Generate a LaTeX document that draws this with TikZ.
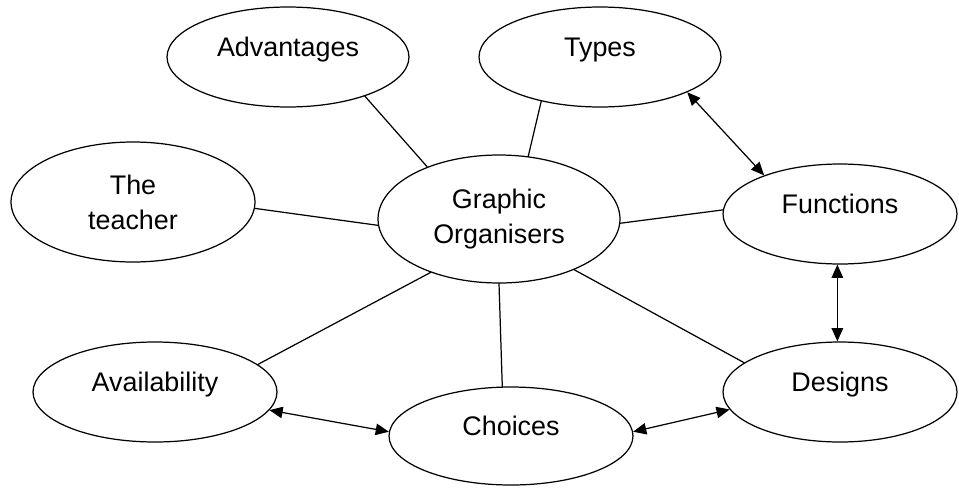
\documentclass[tikz,border=0pt]{standalone}
\usepackage{fontspec}
\setmainfont{Liberation Sans}
\usetikzlibrary{shapes.geometric,arrows.meta}
\begin{document}
\begin{tikzpicture}[x=0.02cm, y=-0.02cm, line width=0.7pt, line join=round, line cap=round,
	>={Triangle[length=7.5pt,width=6.5pt]}, font=\fontsize{15.3}{20}\selectfont,
	bub/.style 2 args={ellipse, draw, inner sep=0pt, minimum width=#1cm, minimum height=#2cm},
	one/.style={text height=11pt, text depth=12pt}]
	\useasboundingbox (0,0) rectangle (959,487);
	\node[bub={4.84}{2.0}, one] (adv) at (288,57) {Advantages};
	\node[bub={4.84}{2.0}, one] (types) at (600,57) {Types};
	\node[bub={4.88}{2.4}, align=center] (teach) at (133,202) {The\\teacher};
	\node[bub={4.84}{2.56}, align=center] (go) at (499,219) {Graphic\\Organisers};
	\node[bub={4.68}{2.0}, one] (func) at (840,214) {Functions};
	\node[bub={4.88}{2.0}, one] (avail) at (155,392) {Availability};
	\node[bub={4.88}{1.96}, one] (choice) at (511,436) {Choices};
	\node[bub={4.68}{2.0}, one] (design) at (840,392) {Designs};
	\draw (adv.-27) -- (go.144);
	\draw (types.217) -- (go.65);
	\draw (teach.-3) -- (go.183);
	\draw (go.-2) -- (func.178);
	\draw (go.218) -- (avail.15);
	\draw (go.-90) -- (choice.100);
	\draw (go.-34) -- (design.163);
	\draw[<->] (types.-22) -- (func.153);
	\draw[<->] (func.-93) -- (design.93);
	\draw[<->] (avail.-9) -- (choice.178);
	\draw[<->] (choice.2) -- (design.189);
\end{tikzpicture}
\end{document}
